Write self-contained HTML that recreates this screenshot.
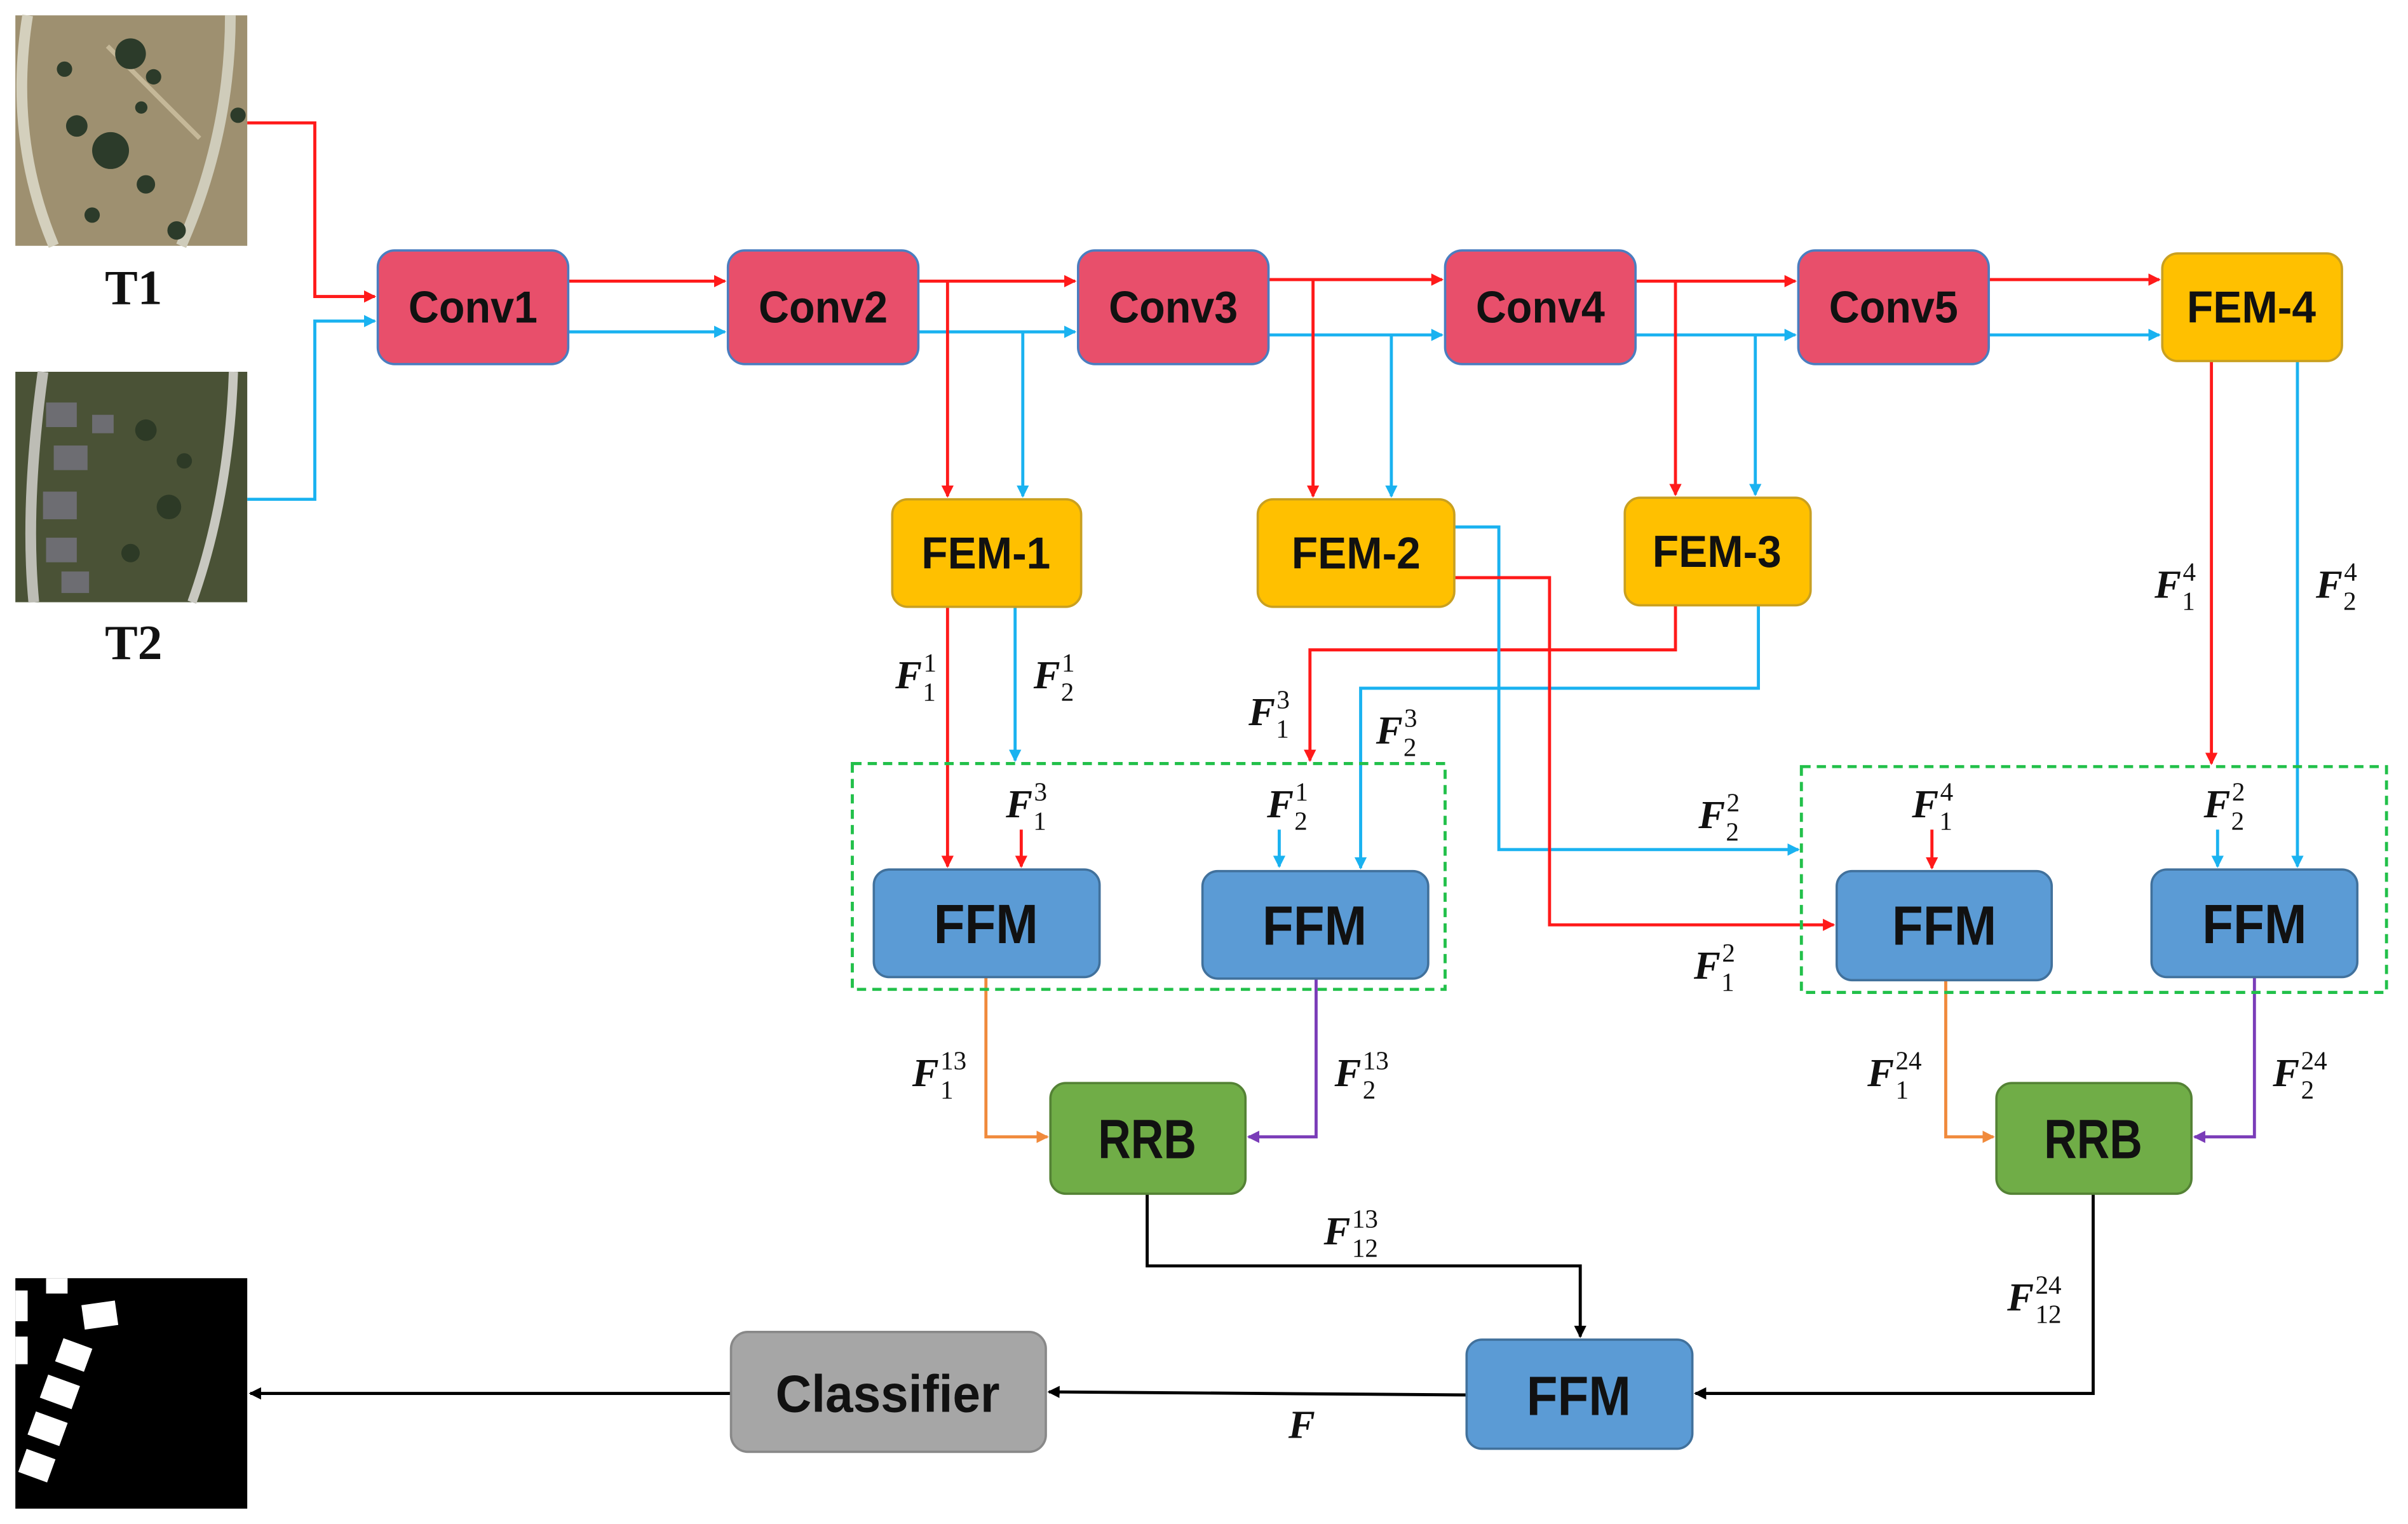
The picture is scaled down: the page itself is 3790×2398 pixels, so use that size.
<!DOCTYPE html>
<html><head><meta charset="utf-8"><style>
html,body{margin:0;padding:0;background:#fff}
svg{display:block}
.bx{font-family:"Liberation Sans",sans-serif;font-weight:bold;fill:#111}
.m{font-family:"Liberation Serif",serif;font-style:italic;font-weight:bold;fill:#111}
.m tspan{font-style:normal;font-weight:normal}
</style></head><body>
<svg width="3790" height="2398" viewBox="0 0 1568 992" preserveAspectRatio="none" xmlns="http://www.w3.org/2000/svg">
<defs>
<marker id="ar" markerWidth="8" markerHeight="8" refX="7" refY="4" orient="auto" markerUnits="userSpaceOnUse"><path d="M0,0 L8,4 L0,8 z" fill="#ff1a1a"/></marker>
<marker id="ab" markerWidth="8" markerHeight="8" refX="7" refY="4" orient="auto" markerUnits="userSpaceOnUse"><path d="M0,0 L8,4 L0,8 z" fill="#1ab2f0"/></marker>
<marker id="ao" markerWidth="8" markerHeight="8" refX="7" refY="4" orient="auto" markerUnits="userSpaceOnUse"><path d="M0,0 L8,4 L0,8 z" fill="#f08a3c"/></marker>
<marker id="ap" markerWidth="8" markerHeight="8" refX="7" refY="4" orient="auto" markerUnits="userSpaceOnUse"><path d="M0,0 L8,4 L0,8 z" fill="#7a3cb8"/></marker>
<marker id="ak" markerWidth="8" markerHeight="8" refX="7" refY="4" orient="auto" markerUnits="userSpaceOnUse"><path d="M0,0 L8,4 L0,8 z" fill="#000"/></marker>
</defs>

<!-- T1 image -->
<rect x="10" y="10" width="151" height="150" fill="#9e9070"/>
<path d="M18,10 C10,60 14,110 35,160" stroke="#d4d0bd" stroke-width="7" fill="none"/>
<path d="M150,10 C150,60 140,110 118,160" stroke="#cfccba" stroke-width="7" fill="none"/>
<path d="M70,30 L130,90" stroke="#c5b898" stroke-width="3" fill="none"/>
<g fill="#2c3b2a"><circle cx="85" cy="35" r="10"/><circle cx="72" cy="98" r="12"/><circle cx="50" cy="82" r="7"/><circle cx="42" cy="45" r="5"/><circle cx="95" cy="120" r="6"/><circle cx="60" cy="140" r="5"/><circle cx="155" cy="75" r="5"/><circle cx="115" cy="150" r="6"/><circle cx="92" cy="70" r="4"/><circle cx="100" cy="50" r="5"/></g>
<!-- T2 image -->
<rect x="10" y="242" width="151" height="150" fill="#4a5236"/>
<path d="M28,242 C20,300 18,350 22,392" stroke="#bdbdb5" stroke-width="7" fill="none"/>
<path d="M152,242 C150,300 140,350 125,392" stroke="#c8c8c0" stroke-width="6" fill="none"/>
<g fill="#6d6d72"><rect x="30" y="262" width="20" height="16"/><rect x="35" y="290" width="22" height="16"/><rect x="28" y="320" width="22" height="18"/><rect x="30" y="350" width="20" height="16"/><rect x="40" y="372" width="18" height="14"/><rect x="60" y="270" width="14" height="12"/></g>
<g fill="#2d3a26"><circle cx="95" cy="280" r="7"/><circle cx="110" cy="330" r="8"/><circle cx="85" cy="360" r="6"/><circle cx="120" cy="300" r="5"/></g>
<text x="87" y="198" text-anchor="middle" font-family="Liberation Serif,serif" font-weight="bold" font-size="32" fill="#111">T1</text>
<text x="87" y="429" text-anchor="middle" font-family="Liberation Serif,serif" font-weight="bold" font-size="32" fill="#111">T2</text>
<!-- Output mask -->
<rect x="10" y="832" width="151" height="150" fill="#000"/>
<g fill="#fff">
<rect x="10" y="840" width="8" height="20"/><rect x="10" y="870" width="8" height="18"/>
<rect x="54" y="848" width="22" height="16" transform="rotate(-8 65 856)"/>
<rect x="38" y="874" width="20" height="16" transform="rotate(20 48 882)"/>
<rect x="28" y="898" width="22" height="16" transform="rotate(20 39 906)"/>
<rect x="20" y="922" width="22" height="16" transform="rotate(20 31 930)"/>
<rect x="14" y="946" width="20" height="16" transform="rotate(20 24 954)"/>
<rect x="30" y="832" width="14" height="10"/>
</g>

<!-- Lines -->
<g fill="none" stroke-width="2">
<path d="M161,80 H205 V193 H244" stroke="#ff1a1a" marker-end="url(#ar)"/>
<path d="M161,325 H205 V209 H244" stroke="#1ab2f0" marker-end="url(#ab)"/>
<path d="M370,183 H472" stroke="#ff1a1a" marker-end="url(#ar)"/>
<path d="M370,216 H472" stroke="#1ab2f0" marker-end="url(#ab)"/>
<path d="M598,183 H700" stroke="#ff1a1a" marker-end="url(#ar)"/>
<path d="M598,216 H700" stroke="#1ab2f0" marker-end="url(#ab)"/>
<path d="M826,182 H939" stroke="#ff1a1a" marker-end="url(#ar)"/>
<path d="M826,218 H939" stroke="#1ab2f0" marker-end="url(#ab)"/>
<path d="M1065,183 H1169" stroke="#ff1a1a" marker-end="url(#ar)"/>
<path d="M1065,218 H1169" stroke="#1ab2f0" marker-end="url(#ab)"/>
<path d="M1295,182 H1406" stroke="#ff1a1a" marker-end="url(#ar)"/>
<path d="M1295,218 H1406" stroke="#1ab2f0" marker-end="url(#ab)"/>
<path d="M617,183 V323" stroke="#ff1a1a" marker-end="url(#ar)"/>
<path d="M666,216 V323" stroke="#1ab2f0" marker-end="url(#ab)"/>
<path d="M855,182 V323" stroke="#ff1a1a" marker-end="url(#ar)"/>
<path d="M906,218 V323" stroke="#1ab2f0" marker-end="url(#ab)"/>
<path d="M1091,183 V322" stroke="#ff1a1a" marker-end="url(#ar)"/>
<path d="M1143,218 V322" stroke="#1ab2f0" marker-end="url(#ab)"/>
<path d="M617,395 V564" stroke="#ff1a1a" marker-end="url(#ar)"/>
<path d="M661,395 V495" stroke="#1ab2f0" marker-end="url(#ab)"/>
<path d="M1091,394 V423 H853 V495" stroke="#ff1a1a" marker-end="url(#ar)"/>
<path d="M1145,394 V448 H886 V565" stroke="#1ab2f0" marker-end="url(#ab)"/>
<path d="M665,540 V564" stroke="#ff1a1a" marker-end="url(#ar)"/>
<path d="M833,540 V564" stroke="#1ab2f0" marker-end="url(#ab)"/>
<path d="M947,343 H976 V553 H1171" stroke="#1ab2f0" marker-end="url(#ab)"/>
<path d="M947,376 H1009 V602 H1194" stroke="#ff1a1a" marker-end="url(#ar)"/>
<path d="M1440,235 V497" stroke="#ff1a1a" marker-end="url(#ar)"/>
<path d="M1496,235 V564" stroke="#1ab2f0" marker-end="url(#ab)"/>
<path d="M1258,540 V565" stroke="#ff1a1a" marker-end="url(#ar)"/>
<path d="M1444,540 V564" stroke="#1ab2f0" marker-end="url(#ab)"/>
<path d="M642,636 V740 H682" stroke="#f08a3c" marker-end="url(#ao)"/>
<path d="M857,637 V740 H813" stroke="#7a3cb8" marker-end="url(#ap)"/>
<path d="M1267,638 V740 H1298" stroke="#f08a3c" marker-end="url(#ao)"/>
<path d="M1468,636 V740 H1429" stroke="#7a3cb8" marker-end="url(#ap)"/>
<path d="M747,777 V824 H1029 V870" stroke="#000" marker-end="url(#ak)"/>
<path d="M1363,777 V907 H1104" stroke="#000" marker-end="url(#ak)"/>
<path d="M955,908 L683,906" stroke="#000" marker-end="url(#ak)"/>
<path d="M476,907 H163" stroke="#000" marker-end="url(#ak)"/>
</g>

<!-- dashed groups -->
<rect x="555" y="497" width="386" height="147" fill="none" stroke="#22c04a" stroke-width="2" stroke-dasharray="6,4"/>
<rect x="1173" y="499" width="381" height="147" fill="none" stroke="#22c04a" stroke-width="2" stroke-dasharray="6,4"/>

<!-- boxes -->
<g stroke="#4a7ec0" stroke-width="1.5">
<rect x="246" y="163" width="124" height="74" rx="11" fill="#e84f6b"/>
<rect x="474" y="163" width="124" height="74" rx="11" fill="#e84f6b"/>
<rect x="702" y="163" width="124" height="74" rx="11" fill="#e84f6b"/>
<rect x="941" y="163" width="124" height="74" rx="11" fill="#e84f6b"/>
<rect x="1171" y="163" width="124" height="74" rx="11" fill="#e84f6b"/>
</g>
<g stroke="#c9a020" stroke-width="1.5" fill="#ffc000">
<rect x="1408" y="165" width="117" height="70" rx="10"/>
<rect x="581" y="325" width="123" height="70" rx="10"/>
<rect x="819" y="325" width="128" height="70" rx="10"/>
<rect x="1058" y="324" width="121" height="70" rx="10"/>
</g>
<g stroke="#41719c" stroke-width="1.5" fill="#5b9bd5">
<rect x="569" y="566" width="147" height="70" rx="10"/>
<rect x="783" y="567" width="147" height="70" rx="10"/>
<rect x="1196" y="567" width="140" height="71" rx="10"/>
<rect x="1401" y="566" width="134" height="70" rx="10"/>
<rect x="955" y="872" width="147" height="71" rx="10"/>
</g>
<g stroke="#548235" stroke-width="1.5" fill="#70ad47">
<rect x="684" y="705" width="127" height="72" rx="10"/>
<rect x="1300" y="705" width="127" height="72" rx="10"/>
</g>
<rect x="476" y="867" width="205" height="78" rx="11" fill="#a6a6a6" stroke="#888" stroke-width="1.5"/>

<g class="bx" font-size="29" text-anchor="middle" lengthAdjust="spacingAndGlyphs">
<text x="308" y="210" textLength="84" lengthAdjust="spacingAndGlyphs">Conv1</text>
<text x="536" y="210" textLength="84" lengthAdjust="spacingAndGlyphs">Conv2</text>
<text x="764" y="210" textLength="84" lengthAdjust="spacingAndGlyphs">Conv3</text>
<text x="1003" y="210" textLength="84" lengthAdjust="spacingAndGlyphs">Conv4</text>
<text x="1233" y="210" textLength="84" lengthAdjust="spacingAndGlyphs">Conv5</text>
<text x="1466" y="210" textLength="84" lengthAdjust="spacingAndGlyphs">FEM-4</text>
<text x="642" y="370" textLength="84" lengthAdjust="spacingAndGlyphs">FEM-1</text>
<text x="883" y="370" textLength="84" lengthAdjust="spacingAndGlyphs">FEM-2</text>
<text x="1118" y="369" textLength="84" lengthAdjust="spacingAndGlyphs">FEM-3</text>
</g>
<g class="bx" font-size="36" text-anchor="middle">
<text x="642" y="614" textLength="68" lengthAdjust="spacingAndGlyphs">FFM</text>
<text x="856" y="615" textLength="68" lengthAdjust="spacingAndGlyphs">FFM</text>
<text x="1266" y="615" textLength="68" lengthAdjust="spacingAndGlyphs">FFM</text>
<text x="1468" y="614" textLength="68" lengthAdjust="spacingAndGlyphs">FFM</text>
<text x="1028" y="921" textLength="68" lengthAdjust="spacingAndGlyphs">FFM</text>
<text x="747" y="754" textLength="64" lengthAdjust="spacingAndGlyphs">RRB</text>
<text x="1363" y="754" textLength="64" lengthAdjust="spacingAndGlyphs">RRB</text>
<text x="578" y="919" font-size="34" textLength="146" lengthAdjust="spacingAndGlyphs">Classifier</text>
</g>

<!-- math labels -->
<g class="m" font-size="26">
<text x="583" y="448">F<tspan font-size="17" dx="1" dy="-11">1</tspan><tspan font-size="17" dx="-9" dy="19">1</tspan></text>
<text x="673" y="448">F<tspan font-size="17" dx="1" dy="-11">1</tspan><tspan font-size="17" dx="-9" dy="19">2</tspan></text>
<text x="813" y="472">F<tspan font-size="17" dx="1" dy="-11">3</tspan><tspan font-size="17" dx="-9" dy="19">1</tspan></text>
<text x="896" y="484">F<tspan font-size="17" dx="1" dy="-11">3</tspan><tspan font-size="17" dx="-9" dy="19">2</tspan></text>
<text x="655" y="532">F<tspan font-size="17" dx="1" dy="-11">3</tspan><tspan font-size="17" dx="-9" dy="19">1</tspan></text>
<text x="825" y="532">F<tspan font-size="17" dx="1" dy="-11">1</tspan><tspan font-size="17" dx="-9" dy="19">2</tspan></text>
<text x="1106" y="539">F<tspan font-size="17" dx="1" dy="-11">2</tspan><tspan font-size="17" dx="-9" dy="19">2</tspan></text>
<text x="1103" y="637">F<tspan font-size="17" dx="1" dy="-11">2</tspan><tspan font-size="17" dx="-9" dy="19">1</tspan></text>
<text x="1245" y="532">F<tspan font-size="17" dx="1" dy="-11">4</tspan><tspan font-size="17" dx="-9" dy="19">1</tspan></text>
<text x="1435" y="532">F<tspan font-size="17" dx="1" dy="-11">2</tspan><tspan font-size="17" dx="-9" dy="19">2</tspan></text>
<text x="1403" y="389">F<tspan font-size="17" dx="1" dy="-11">4</tspan><tspan font-size="17" dx="-9" dy="19">1</tspan></text>
<text x="1508" y="389">F<tspan font-size="17" dx="1" dy="-11">4</tspan><tspan font-size="17" dx="-9" dy="19">2</tspan></text>
<text x="594" y="707">F<tspan font-size="17" dx="1" dy="-11">13</tspan><tspan font-size="17" dx="-17" dy="19">1</tspan></text>
<text x="869" y="707">F<tspan font-size="17" dx="1" dy="-11">13</tspan><tspan font-size="17" dx="-17" dy="19">2</tspan></text>
<text x="1216" y="707">F<tspan font-size="17" dx="1" dy="-11">24</tspan><tspan font-size="17" dx="-17" dy="19">1</tspan></text>
<text x="1480" y="707">F<tspan font-size="17" dx="1" dy="-11">24</tspan><tspan font-size="17" dx="-17" dy="19">2</tspan></text>
<text x="862" y="810">F<tspan font-size="17" dx="1" dy="-11">13</tspan><tspan font-size="17" dx="-17" dy="19">12</tspan></text>
<text x="1307" y="853">F<tspan font-size="17" dx="1" dy="-11">24</tspan><tspan font-size="17" dx="-17" dy="19">12</tspan></text>
<text x="839" y="936">F</text>
</g>
</svg>
</body></html>
